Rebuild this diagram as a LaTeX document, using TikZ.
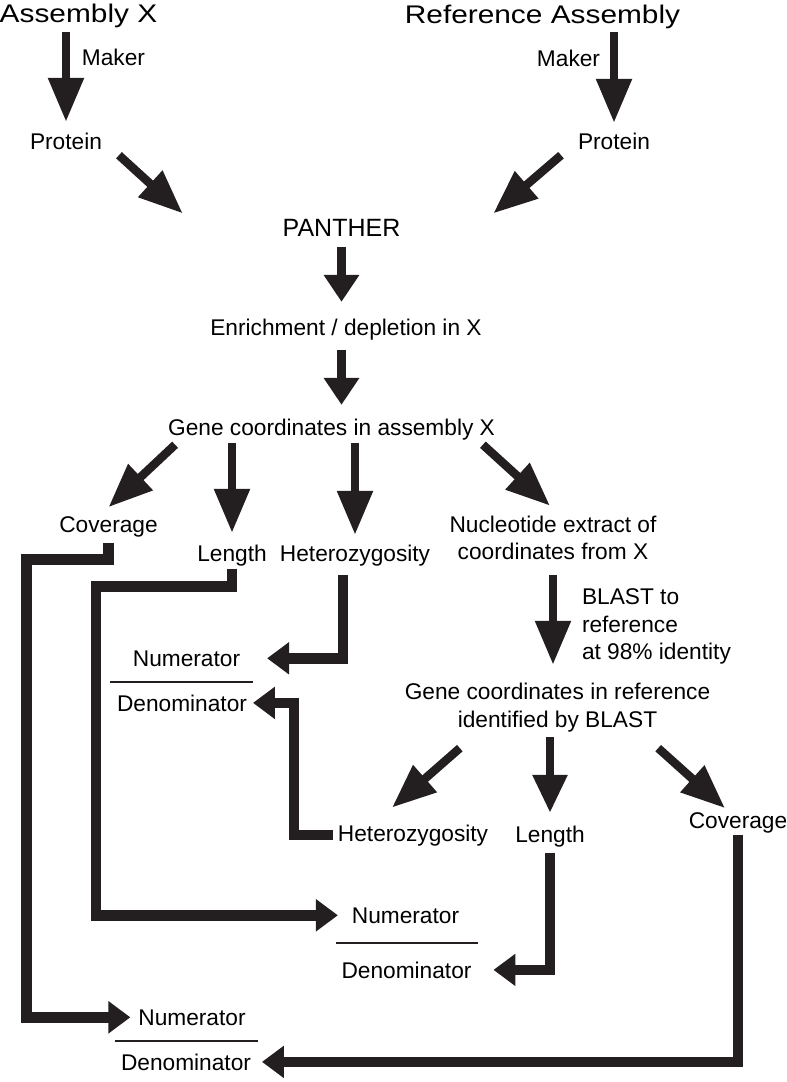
\documentclass[tikz,border=0pt]{standalone}
\usepackage{fontspec}
\setmainfont{Liberation Sans}
\newfontfamily\titlefont[FakeStretch=1.17]{Liberation Sans}
\usepackage{tikz}
\usetikzlibrary{arrows.meta}
\definecolor{ink}{HTML}{231F20}

\begin{document}
\begin{tikzpicture}[x=1pt, y=-1pt,
  lbl/.style={inner sep=0pt, outer sep=0pt, font=\fontsize{22.7}{27.5}\selectfont},
  ttl/.style={inner sep=0pt, outer sep=0pt, font=\titlefont\fontsize{25.5}{30}\selectfont},
  bigarrow/.style={color=ink, line width=8.5pt, -{Triangle[length=44pt, width=34pt]}},
  shortarrow/.style={color=ink, line width=8.5pt, -{Triangle[length=27pt, width=34pt]}},
  elbow/.style={color=ink, line width=10.5pt, line join=miter, -{Triangle[length=22pt, width=31pt]}},
  fracbar/.style={color=ink, line width=2.5pt}]

% page frame
\useasboundingbox (0,0) rectangle (787,1082);

% draw top labels
\node[ttl, anchor=base] (asmX) at (78.5,22) {Assembly X};
\node[ttl, anchor=base] (asmR) at (542.5,23) {Reference Assembly};
\node[lbl, anchor=base] (makL) at (113.5,65) {Maker};
\node[lbl, anchor=base] (makR) at (568.5,66) {Maker};
\node[lbl, anchor=base] (protL) at (66,149) {Protein};
\node[lbl, anchor=base] (protR) at (614,149) {Protein};

% draw middle labels
\node[lbl, anchor=base, font=\fontsize{25}{30}\selectfont] (panther) at (341.5,236) {PANTHER};
\node[lbl, anchor=base] (enrich) at (346,335) {Enrichment / depletion in X};
\node[lbl, anchor=base] (geneX) at (331.5,435) {Gene coordinates in assembly X};
\node[lbl, anchor=base] (covL) at (108.5,532) {Coverage};
\node[lbl, anchor=base] (lenL) at (232,561) {Length};
\node[lbl, anchor=base] (hetL) at (355,561) {Heterozygosity};
\node[lbl, align=center] (nuc) at (553,537.8) {Nucleotide extract of\\coordinates from X};
\node[lbl, align=left, anchor=west] (blast) at (582,626.7) {BLAST to\\reference\\at 98\% identity};
\node[lbl, align=center] (geneR) at (557.5,707.8) {Gene coordinates in reference\\identified by BLAST};
\node[lbl, anchor=base] (hetR) at (413,841) {Heterozygosity};
\node[lbl, anchor=base] (lenR) at (550,842) {Length};
\node[lbl, anchor=base] (covR) at (738,828) {Coverage};

% draw fractions
\node[lbl, anchor=base] (num1) at (186.5,666) {Numerator};
\node[lbl, anchor=base] (den1) at (182,711) {Denominator};
\node[lbl, anchor=base] (num2) at (405.5,923) {Numerator};
\node[lbl, anchor=base] (den2) at (406.5,978) {Denominator};
\node[lbl, anchor=base] (num3) at (192,1025) {Numerator};
\node[lbl, anchor=base] (den3) at (186,1070) {Denominator};
\draw[fracbar] (110,682) -- (253,682);
\draw[fracbar] (336,943) -- (478,943);
\draw[fracbar] (115,1041) -- (258,1041);

% draw big arrows
\draw[bigarrow, shorten <=4.6pt, shorten >=10.7pt] (protL.north |- asmX.south) -- (protL.north);
\draw[bigarrow, shorten <=3.6pt, shorten >=9.7pt] (protR.north |- asmR.south) -- (protR.north);
\draw[bigarrow] ([shift={(17,6)}]protL.south east) -- ([shift={(-100,-14)}]panther.west);
\draw[bigarrow] ([shift={(-17,6)}]protR.south west) -- ([shift={(93,-14)}]panther.east);
\draw[shortarrow, shorten <=11pt, shorten >=16.7pt] (panther.south) -- (panther.south |- enrich.north);
\draw[shortarrow, shorten <=10.2pt, shorten >=13.7pt] (panther.south |- enrich.south) -- (panther.south |- geneX.north);
\draw[bigarrow] ([shift={(7,5)}]geneX.south west) -- ([shift={(0,-9)}]covL.north);
\draw[bigarrow, shorten <=3.2pt, shorten >=11.7pt] (lenL.north |- geneX.south) -- (lenL.north);
\draw[bigarrow, shorten <=3.2pt, shorten >=9.7pt] (hetL.north |- geneX.south) -- (hetL.north);
\draw[bigarrow] ([shift={(-12,5)}]geneX.south east) -- ([shift={(-3,-10)}]nuc.north);
\draw[bigarrow, shorten <=15pt, shorten >=18.7pt] (nuc.south) -- (nuc.south |- geneR.north);
\draw[bigarrow] ([shift={(55,16)}]geneR.south west) -- ([shift={(-21,-17)}]hetR.north);
\draw[bigarrow, -{Triangle[length=38pt, width=33pt]}, shorten <=5.2pt, shorten >=12.7pt] (lenR.north |- geneR.south) -- (lenR.north);
\draw[bigarrow] ([shift={(-52,16)}]geneR.south east) -- ([shift={(-13,-4)}]covR.north);

% draw elbow connectors
\draw[elbow, shorten <=9pt, shorten >=27pt] ([xshift=-12pt]hetL.south) |- (num1.east);
\draw[elbow, shorten <=5pt, shorten >=6pt] (hetR.west) -- ++(-44,0) |- (den1.east);
\draw[elbow, shorten <=3pt, shorten >=14pt] (lenL.south) |- ++(-136,21) |- (num2.west);
\draw[elbow, shorten <=6pt, shorten >=22pt] (lenR.south) |- (den2.east);
\draw[elbow, shorten <=6pt, shorten >=8pt] (covL.south) |- ++(-82,23) |- (num3.west);
\draw[elbow, shorten <=2pt, shorten >=11pt] (covR.south) |- (den3.east);

\end{tikzpicture}
\end{document}
